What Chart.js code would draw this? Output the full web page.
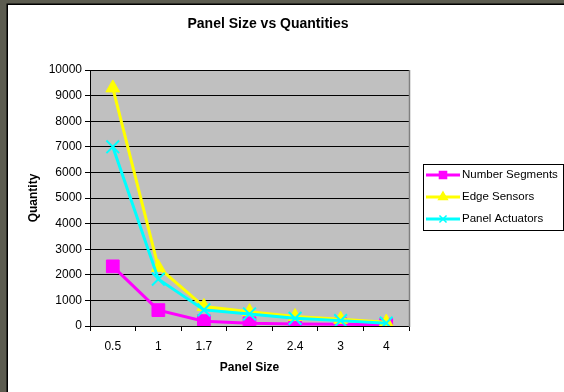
<!DOCTYPE html>
<html>
<head>
<meta charset="utf-8">
<script src="https://cdn.jsdelivr.net/npm/chart.js@4.4.1/dist/chart.umd.min.js"></script>
<style>
html,body{margin:0;padding:0;background:#5c5c50;overflow:hidden;}
canvas{display:block;}
</style>
</head>
<body>
<canvas id="c" width="564" height="392"></canvas>
<script>
const chartTitle = 'Panel Size vs Quantities';
const xTitle = 'Panel Size';
const yTitle = 'Quantity';
const categories = ['0.5', '1', '1.7', '2', '2.4', '3', '4'];
const numberSegments = [2330, 620, 190, 110, 80, 65, 50];
const edgeSensors = [9300, 2290, 760, 560, 370, 260, 150];
const panelActuators = [7000, 1830, 630, 470, 300, 210, 110];
const yTicks = [0, 1000, 2000, 3000, 4000, 5000, 6000, 7000, 8000, 9000, 10000];

const FONT = "'Liberation Sans', Arial, sans-serif";

const framePlugin = {
  id: 'frame',
  beforeDraw(chart) {
    const ctx = chart.ctx;
    const W = chart.width, H = chart.height;
    ctx.save();
    ctx.fillStyle = '#5c5c50';
    ctx.fillRect(0, 0, W, H);
    ctx.fillStyle = '#ffffff';
    ctx.fillRect(8, 5, W - 8, H - 5);
    ctx.strokeStyle = '#000000';
    ctx.lineWidth = 1.5;
    ctx.beginPath();
    ctx.moveTo(7.25, H);
    ctx.lineTo(7.25, 4.25);
    ctx.lineTo(W, 4.25);
    ctx.stroke();
    const a = chart.chartArea;
    ctx.fillStyle = '#c0c0c0';
    ctx.fillRect(a.left, a.top, a.right - a.left, a.bottom - a.top);
    ctx.restore();
  },
  afterDatasetsDraw(chart) {
    const ctx = chart.ctx;
    const a = chart.chartArea;
    ctx.save();
    ctx.strokeStyle = '#808080';
    ctx.lineWidth = 1.5;
    ctx.beginPath();
    ctx.moveTo(a.right + 0.5, a.top);
    ctx.lineTo(a.right + 0.5, a.bottom + 1);
    ctx.stroke();
    ctx.restore();
  },
  afterDraw(chart) {
    const ctx = chart.ctx;
    ctx.save();
    ctx.fillStyle = '#000';
    ctx.font = 'bold 14px ' + FONT;
    ctx.textAlign = 'center';
    ctx.textBaseline = 'middle';
    ctx.fillText(chartTitle, 268, 24);
    const bx = 423, by = 164, bw = 140, bh = 66;
    ctx.fillStyle = '#fff';
    ctx.fillRect(bx, by, bw, bh);
    ctx.strokeStyle = '#000';
    ctx.lineWidth = 1;
    ctx.strokeRect(bx + 0.5, by + 0.5, bw, bh);
    const rows = [175, 197, 219];
    chart.data.datasets.forEach((ds, i) => {
      const y = rows[i];
      ctx.strokeStyle = ds.borderColor;
      ctx.lineWidth = 3;
      ctx.beginPath();
      ctx.moveTo(426, y);
      ctx.lineTo(460, y);
      ctx.stroke();
      ctx.fillStyle = ds.borderColor;
      ctx.strokeStyle = ds.borderColor;
      ctx.lineWidth = 1.5;
      Chart.helpers.drawPoint(ctx, {pointStyle: ds.pointStyle, radius: 5, rotation: 0, borderWidth: 1.5}, 443, y);
      ctx.fillStyle = '#000';
      ctx.font = '11.5px ' + FONT;
      ctx.textAlign = 'left';
      ctx.textBaseline = 'middle';
      ctx.fillText(ds.label, 462, y);
    });
    ctx.restore();
  }
};

new Chart(document.getElementById('c'), {
  type: 'line',
  data: {
    labels: categories,
    datasets: [
      {label: 'Number Segments', data: numberSegments, borderColor: '#ff00ff', backgroundColor: '#ff00ff',
       pointStyle: 'rect', pointRadius: 9, pointBorderWidth: 1, order: 2},
      {label: 'Edge Sensors', data: edgeSensors, borderColor: '#ffff00', backgroundColor: '#ffff00',
       pointStyle: 'triangle', pointRadius: 8, pointBorderWidth: 1, order: 1},
      {label: 'Panel Actuators', data: panelActuators, borderColor: '#00ffff', backgroundColor: '#00ffff',
       pointStyle: 'crossRot', pointRadius: 9, pointBorderWidth: 2, order: 0}
    ]
  },
  options: {
    responsive: false,
    animation: false,
    devicePixelRatio: 1,
    layout: {padding: {left: 8, top: 70, right: 155, bottom: 0}},
    elements: {line: {borderWidth: 3, tension: 0}},
    plugins: {legend: {display: false}, title: {display: false}, tooltip: {enabled: false}},
    scales: {
      x: {
        type: 'category',
        offset: true,
        afterFit(s) { s.height = 66; },
        grid: {display: true, drawOnChartArea: false, drawTicks: true, tickLength: 5, color: '#000', offset: true},
        border: {display: true, color: '#000', width: 1},
        ticks: {color: '#000', font: {family: FONT, size: 12}, padding: 8, maxRotation: 0, autoSkip: false},
        title: {display: true, text: xTitle, color: '#000', font: {family: FONT, size: 12, weight: 'bold'}, padding: {top: 0, bottom: 17}}
      },
      y: {
        min: 0, max: 10000,
        afterFit(s) { s.width = 82; },
        afterBuildTicks(s) { s.ticks = yTicks.map(v => ({value: v})); },
        grid: {color: '#000', lineWidth: 1, drawTicks: true, tickLength: 5},
        border: {display: true, color: '#000', width: 1},
        ticks: {color: '#000', font: {family: FONT, size: 12}, padding: 3, callback: v => String(v)},
        title: {display: true, text: yTitle, color: '#000', font: {family: FONT, size: 12, weight: 'bold'}, padding: {top: 18, bottom: 0}}
      }
    }
  },
  plugins: [framePlugin]
});
</script>
</body>
</html>
